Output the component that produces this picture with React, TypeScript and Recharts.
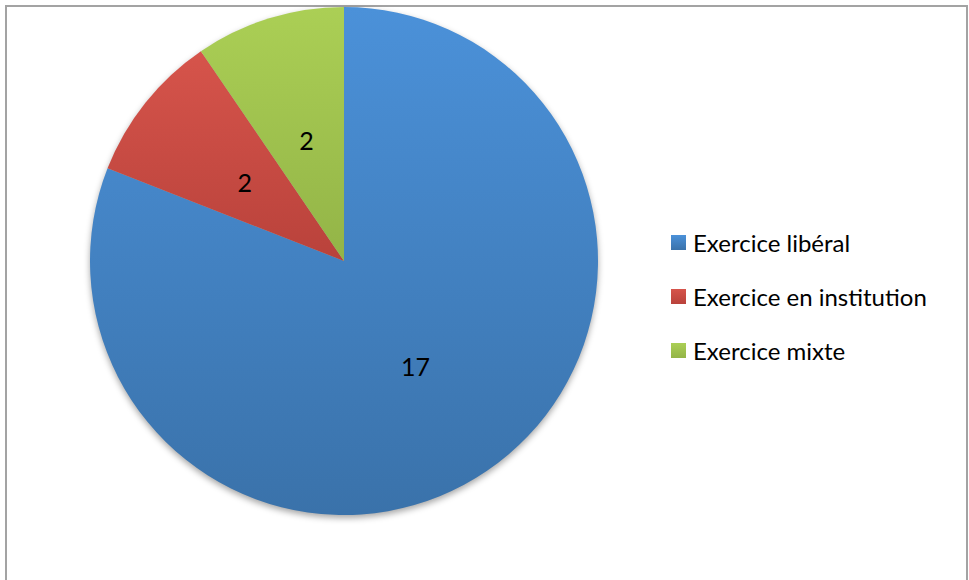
import React from 'react';
import { PieChart, Pie, Cell, Legend } from 'recharts';

const categories = ['Exercice libéral', 'Exercice en institution', 'Exercice mixte'];
const values = [17, 2, 2];

const GRADIENTS = [
  { id: 'gBlue', top: '#4b91d9', bottom: '#3a72aa' },
  { id: 'gRed', top: '#d6544b', bottom: '#b9423b' },
  { id: 'gGreen', top: '#abcf55', bottom: '#93b447' },
];

const FONT = 'Lato, "Open Sans", sans-serif';

const data = categories.map((name, i) => ({ name, value: values[i] }));

const RADIAN = Math.PI / 180;
const renderLabel = ({ cx, cy, midAngle, outerRadius, value }: any) => {
  const r = outerRadius * 0.5;
  const x = cx + r * Math.cos(-midAngle * RADIAN);
  const y = cy + r * Math.sin(-midAngle * RADIAN);
  return (
    <text
      x={x}
      y={y}
      fill="#000"
      textAnchor="middle"
      dominantBaseline="central"
      fontSize={25}
      fontFamily={FONT}
    >
      {value}
    </text>
  );
};

const renderLegend = () => (
  <div style={{ fontFamily: FONT, fontSize: 24, color: '#000' }}>
    {data.map((d, i) => (
      <div key={d.name} style={{ display: 'flex', alignItems: 'center', height: 54 }}>
        <span
          style={{
            display: 'inline-block',
            width: 15,
            height: 15,
            marginRight: 7,
            background: `linear-gradient(${GRADIENTS[i].top}, ${GRADIENTS[i].bottom})`,
          }}
        />
        <span>{d.name}</span>
      </div>
    ))}
  </div>
);

export default function App() {
  return (
    <div style={{ position: 'absolute', left: 0, top: 0, width: 969, height: 580, background: '#fff', overflow: 'hidden' }}>
      <style>{`.recharts-pie { filter: drop-shadow(0px 3px 3px rgba(0,0,0,0.35)); }`}</style>
      <div
        style={{
          position: 'absolute',
          left: 5,
          top: 5,
          width: 963,
          height: 600,
          border: '2px solid #a3a3a3',
          boxSizing: 'border-box',
        }}
      />
      <div style={{ position: 'absolute', left: 0, top: 0 }}>
        <PieChart width={969} height={580} margin={{ top: 0, right: 0, bottom: 0, left: 0 }}>
          <defs>
            {GRADIENTS.map((g) => (
              <linearGradient key={g.id} id={g.id} x1="0" y1="0" x2="0" y2="1">
                <stop offset="0%" stopColor={g.top} />
                <stop offset="100%" stopColor={g.bottom} />
              </linearGradient>
            ))}
          </defs>
          <Pie
            data={data}
            dataKey="value"
            nameKey="name"
            cx={344}
            cy={261}
            outerRadius={254}
            startAngle={90}
            endAngle={-270}
            stroke="none"
            labelLine={false}
            label={renderLabel}
            isAnimationActive={false}
          >
            {data.map((entry, index) => (
              <Cell key={`cell-${index}`} fill={`url(#${GRADIENTS[index].id})`} />
            ))}
          </Pie>
          <Legend
            content={renderLegend}
            wrapperStyle={{ position: 'absolute', left: 671, top: 215, width: 296, bottom: 'auto', right: 'auto' }}
          />
        </PieChart>
      </div>
    </div>
  );
}
